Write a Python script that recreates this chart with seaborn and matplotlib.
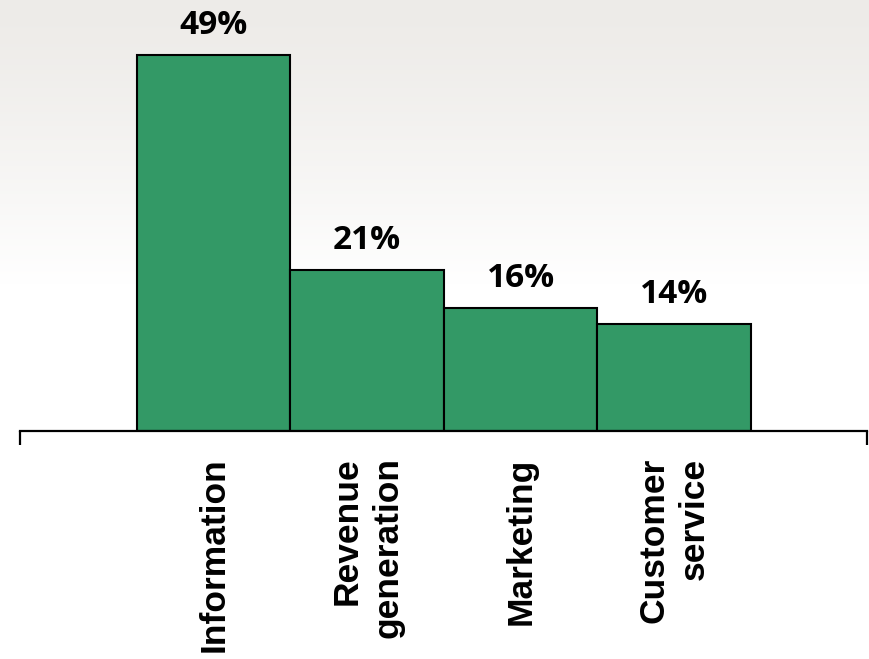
import numpy as np
import pandas as pd
import matplotlib
matplotlib.use("Agg")
import matplotlib.pyplot as plt
import seaborn as sns

# Share of responses by category
categories = ["Information", "Revenue\ngeneration", "Marketing", "Customer\nservice"]
shares = [49, 21, 16, 14]
value_labels = ["49%", "21%", "16%", "14%"]

df = pd.DataFrame({"category": categories, "share": shares})

sns.set_style("white")
plt.rcParams["font.family"] = ["Liberation Sans", "DejaVu Sans"]

W, H = 869, 659
fig = plt.figure(figsize=(W / 100, H / 100), dpi=100)

# soft, washed-out backdrop across the upper part of the slide
bg = fig.add_axes([0, 0, 1, 1], zorder=-1)
rows = np.linspace(0, 1, 300)[:, None]
fade = np.clip(rows / 0.43, 0, 1) ** 1.3
top = np.array([0.93, 0.922, 0.91])
img = top[None, None, :] * (1 - fade[..., None]) + fade[..., None] * 1.0
img = np.repeat(img, 4, axis=1)
bg.imshow(img, aspect="auto", extent=[0, 1, 0, 1], origin="upper")
bg.set_axis_off()

ax = fig.add_axes([20 / W, 228 / H, 847 / W, 431 / H])
ax.patch.set_alpha(0)

sns.barplot(data=df, x="category", y="share", color="#339966", width=1.0,
            edgecolor="black", linewidth=1.5, saturation=1, ax=ax)

ax.set_xlim(-1.262, 4.256)
ax.set_ylim(0, 56.17)

for i, (v, lab) in enumerate(zip(shares, value_labels)):
    ax.annotate(lab, (i, v), xytext=(0, 15), textcoords="offset points",
                ha="center", va="baseline", fontsize=24, fontweight="bold",
                family=["Open Sans", "DejaVu Sans"], color="black")

for s in ["left", "right", "top"]:
    ax.spines[s].set_visible(False)
ax.spines["bottom"].set_linewidth(1.6)
ax.spines["bottom"].set_color("black")

ax.set_yticks([])
ax.set_xlabel("")
ax.set_ylabel("")

# end ticks hanging from the baseline
ax.set_xticks([-1.262, 4.256], minor=True)
ax.tick_params(axis="x", which="minor", direction="out", length=10, width=1.6,
               color="black", bottom=True)
ax.tick_params(axis="x", which="major", length=0, pad=19, labelcolor="black")
for t in ax.get_xticklabels():
    t.set_rotation(90)
    t.set_fontsize(25.5)
    t.set_fontweight("bold")
    t.set_color("black")
    t.set_ha("center")
    t.set_va("top")
    t.set_multialignment("right")
    t.set_linespacing(1.3)

fig.savefig("out.png", dpi=100)
